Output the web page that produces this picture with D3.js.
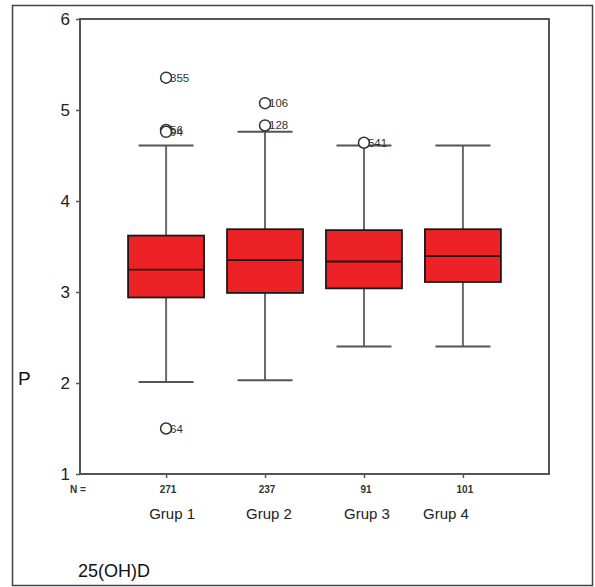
<!DOCTYPE html>
<html>
<head>
<meta charset="utf-8">
<script src="https://cdn.jsdelivr.net/npm/d3@7"></script>
<style>
  body { margin: 0; background: #fff; }
  text { font-family: "Liberation Sans", Arial, sans-serif; }
</style>
</head>
<body>
<div id="okvir"></div>
<script>
// podaci (procjena s slike)
const grupe = ["Grup 1", "Grup 2", "Grup 3", "Grup 4"]
const brojN = [271, 237, 91, 101]
const q1 = [2.94, 2.99, 3.04, 3.11]
const medijan = [3.245, 3.35, 3.335, 3.395]
const q3 = [3.62, 3.69, 3.68, 3.69]
const brkDonji = [2.01, 2.03, 2.40, 2.40]
const brkGornji = [4.61, 4.76, 4.61, 4.61]
const outlieri = [
  { g: 0, v: 5.355, oznaka: "355" },
  { g: 0, v: 4.78, oznaka: "56" },
  { g: 0, v: 4.76, oznaka: "94" },
  { g: 0, v: 1.50, oznaka: "64" },
  { g: 1, v: 5.075, oznaka: "106" },
  { g: 1, v: 4.83, oznaka: "128" },
  { g: 2, v: 4.64, oznaka: "541" },
]
const yTickovi = [1, 2, 3, 4, 5, 6]

function crtaj() {
  const sirina = 595
  const visina = 587
  const margine = { top: 19, right: 46, bottom: 113, left: 80 }

  const svg = d3.select("#okvir")
    .append("svg")
      .attr("width", sirina)
      .attr("height", visina)

  // vanjski okvir
  svg.append("rect")
    .attr("x", 12.5).attr("y", 5.5)
    .attr("width", 580).attr("height", 580)
    .attr("fill", "none")
    .attr("stroke", "#444")
    .attr("stroke-width", 1.5)

  const x = d3.scalePoint()
    .domain(grupe)
    .range([margine.left, sirina - margine.right])
    .padding(0.87)

  const y = d3.scaleLinear()
    .domain([1, 6])
    .range([visina - margine.bottom, margine.top])

  const sirinaKutije = 76
  const sirinaKape = 55

  // okvir grafa
  svg.append("rect")
    .attr("x", margine.left).attr("y", margine.top)
    .attr("width", sirina - margine.left - margine.right)
    .attr("height", visina - margine.top - margine.bottom)
    .attr("fill", "none")
    .attr("stroke", "#555")
    .attr("stroke-width", 2)

  // y os
  const yOs = svg.append("g")
    .attr("transform", `translate(${margine.left},0)`)
    .call(d3.axisLeft(y).tickValues(yTickovi).tickSize(4).tickPadding(6).tickFormat(d3.format("d")))
  yOs.select(".domain").remove()
  yOs.selectAll(".tick line").attr("stroke", "#555").attr("stroke-width", 1.5)
  yOs.selectAll(".tick text")
    .attr("font-size", 17)
    .attr("fill", "#222")
    .style("font-family", "Liberation Sans, Arial, sans-serif")

  // x os - samo kvacice
  const xOs = svg.append("g")
    .attr("transform", `translate(0,${visina - margine.bottom})`)
    .call(d3.axisBottom(x).tickSize(4).tickFormat(""))
  xOs.select(".domain").remove()
  xOs.selectAll(".tick line").attr("stroke", "#555").attr("stroke-width", 1.5)

  // N =
  svg.append("text")
    .attr("x", 70).attr("y", 493)
    .attr("font-size", 10).attr("font-weight", "bold").attr("fill", "#333")
    .text("N =")
  svg.selectAll(".brojN")
    .data(grupe)
    .enter().append("text")
      .attr("class", "brojN")
      .attr("x", d => x(d) + 2)
      .attr("y", 493)
      .attr("text-anchor", "middle")
      .attr("font-size", 10).attr("font-weight", "bold").attr("fill", "#333")
      .text((d, i) => brojN[i])

  // nazivi grupa
  const pomak = [6, 4, 3, -17]
  svg.selectAll(".grupa")
    .data(grupe)
    .enter().append("text")
      .attr("class", "grupa")
      .attr("x", (d, i) => x(d) + pomak[i])
      .attr("y", 519)
      .attr("text-anchor", "middle")
      .attr("font-size", 15).attr("fill", "#222")
      .text(d => d)

  // P i 25(OH)D
  svg.append("text")
    .attr("x", 18).attr("y", 385)
    .attr("font-size", 19).attr("fill", "#111")
    .text("P")
  svg.append("text")
    .attr("x", 78).attr("y", 577)
    .attr("font-size", 18).attr("fill", "#111")
    .text("25(OH)D")

  // brkovi
  const kutije = svg.selectAll(".kutija")
    .data(grupe)
    .enter().append("g")
      .attr("class", "kutija")

  kutije.append("line")
    .attr("x1", d => x(d)).attr("x2", d => x(d))
    .attr("y1", (d, i) => y(brkDonji[i]))
    .attr("y2", (d, i) => y(brkGornji[i]))
    .attr("stroke", "#6a6a6a").attr("stroke-width", 2)
  kutije.append("line")
    .attr("x1", d => x(d) - sirinaKape / 2).attr("x2", d => x(d) + sirinaKape / 2)
    .attr("y1", (d, i) => y(brkDonji[i])).attr("y2", (d, i) => y(brkDonji[i]))
    .attr("stroke", "#555").attr("stroke-width", 2)
  kutije.append("line")
    .attr("x1", d => x(d) - sirinaKape / 2).attr("x2", d => x(d) + sirinaKape / 2)
    .attr("y1", (d, i) => y(brkGornji[i])).attr("y2", (d, i) => y(brkGornji[i]))
    .attr("stroke", "#555").attr("stroke-width", 2)

  kutije.append("rect")
    .attr("x", d => x(d) - sirinaKutije / 2)
    .attr("width", sirinaKutije)
    .attr("y", (d, i) => y(q3[i]))
    .attr("height", (d, i) => y(q1[i]) - y(q3[i]))
    .attr("fill", "#ed2227")
    .attr("stroke", "#1a1a1a").attr("stroke-width", 1.8)
  kutije.append("line")
    .attr("x1", d => x(d) - sirinaKutije / 2).attr("x2", d => x(d) + sirinaKutije / 2)
    .attr("y1", (d, i) => y(medijan[i])).attr("y2", (d, i) => y(medijan[i]))
    .attr("stroke", "#2a1010").attr("stroke-width", 1.8)

  // outlieri
  const tocke = svg.selectAll(".outlier")
    .data(outlieri)
    .enter().append("g")
      .attr("class", "outlier")
  tocke.append("circle")
    .attr("cx", d => x(grupe[d.g]))
    .attr("cy", d => y(d.v))
    .attr("r", 5.5)
    .attr("fill", "#fff")
    .attr("stroke", "#333").attr("stroke-width", 1.5)
  tocke.append("text")
    .attr("x", d => x(grupe[d.g]) + 4)
    .attr("y", d => y(d.v) + 4)
    .attr("font-size", 11.5).attr("fill", "#333")
    .text(d => d.oznaka)
}
crtaj()
</script>
</body>
</html>
